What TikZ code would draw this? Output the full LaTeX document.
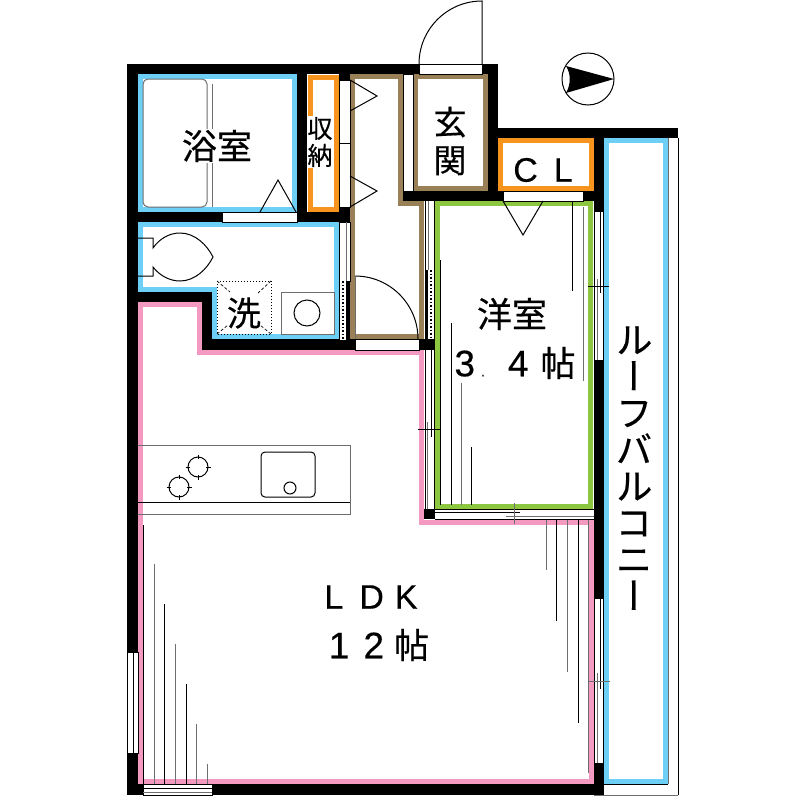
\documentclass[tikz,border=0pt]{standalone}
\usepackage{fontspec}
\setmainfont[FakeBold=0.3]{Liberation Sans}
\newfontfamily\cjk[FakeBold=0.4]{Noto Sans CJK JP}
\newfontfamily\cjkv[RawFeature={+vert},FakeBold=0.4]{Noto Sans CJK JP}
\definecolor{cblue}{HTML}{6DCFF6}
\definecolor{corange}{HTML}{F7941D}
\definecolor{cbrown}{HTML}{998056}
\definecolor{cgreen}{HTML}{8DC63F}
\definecolor{cpink}{HTML}{F49AC1}
\definecolor{cgrey}{HTML}{6E6E6E}
\tikzset{
  room/.style={line width=5pt,line join=miter},
  wallfill/.style={fill=black},
  win/.style={draw=black,fill=white,line width=0.7pt},
  thin line/.style={draw=black,line width=1pt},
  grey line/.style={draw=cgrey,line width=1pt},
  lbl/.style={inner sep=1pt,fill=white,align=center},
  k34/.style={lbl,font=\cjk\fontsize{35}{38}\selectfont},
}
\newcommand{\wall}[4]{\fill[wallfill] (#1,#2) rectangle (#3,#4);}
\newcommand{\wind}[4]{\draw[win] (#1,#2) rectangle (#3,#4);}
\begin{document}
\begin{tikzpicture}[x=1pt,y=-1pt]
\useasboundingbox (0,0) rectangle (800,800);
\fill[white] (0,0) rectangle (800,800);
% coloured room outlines
\draw[room,cblue] (140.5,76.5) rectangle (294.5,209.5);
\draw[room,corange] (310,77) rectangle (336.5,209.5);
\draw[room,cblue] (140.5,224.5) -- (336.5,224.5) -- (336.5,336.5) -- (214.5,336.5) -- (214.5,289.5) -- (140.5,289.5) -- cycle;
\draw[room,cbrown] (352.5,76.5) -- (400.5,76.5) -- (400.5,203.5) -- (421.5,203.5) -- (421.5,336.5) -- (352.5,336.5) -- cycle;
\draw[room,cbrown] (415.5,76.5) rectangle (485.5,188.5);
\draw[room,corange] (500.5,140.5) rectangle (591.5,188.5);
\draw[room,cgreen] (437.5,203.5) rectangle (590.5,506.5);
\draw[room,cblue] (606.5,140.5) rectangle (665.5,781.5);
\draw[room,cpink] (140.5,304.5) -- (199.5,304.5) -- (199.5,352.5) -- (421.5,352.5) -- (421.5,522) -- (591,522) -- (591,781.5) -- (140.5,781.5) -- cycle;
% balcony edge
\draw[grey line] (668,138) -- (668,784);
\draw[thin line] (604,784) -- (668,784);
\draw[thin line] (678,138) -- (678,795);
\draw[grey line] (594,795) -- (678,795);
% walls
\wall{127}{64}{419}{74}
\wall{127}{64}{138}{795}
\wall{127}{784}{604}{795}
\wall{138}{212}{350}{222}
\wall{297}{74}{307}{212}
\wall{339}{74}{350}{80}
\wall{339}{207}{350}{222}
\wall{127}{292}{212}{302}
\wall{202}{292}{212}{350}
\wall{202}{339}{355}{350}
\wall{419}{339}{435}{350}
\wall{482}{64}{498}{74}
\wall{488}{64}{498}{201}
\wall{403}{191}{594}{201}
\wall{498}{128}{678}{138}
\wall{594}{128}{604}{212}
\wall{594}{360}{604}{599}
\wall{594}{763}{604}{795}
\wall{424}{509}{435}{519}
% windows and door sills
\wind{222}{212}{297}{222}
\wind{339}{80}{350}{143}
\wind{339}{143}{350}{207}
\wind{403}{74}{413}{191}
\wind{419}{64}{482}{74}
\wind{355}{339}{419}{350}
\wind{503}{191}{583}{201}
\wind{339}{222}{350}{281}
\draw[grey line] (346,222) -- (346,281);
\wind{127}{652}{138}{753}
\draw[thin line] (133,652) -- (133,753);
\wind{143}{784}{212}{795}
\draw[thin line] (143,788) -- (212,788);
\draw[grey line] (143,792) -- (212,792);
% washroom pocket strip
\fill[white] (339,281) rectangle (350,340);
\fill[black] (346,281) rectangle (350,340);
\draw[black,line width=1pt] (339.5,281) -- (339.5,340);
\draw[black,line width=1.5pt,dotted] (343,281) -- (343,340);
% corridor / western room strip
\fill[white] (424,201) rectangle (435,339);
\draw[thin line] (425,201) -- (425,270);
\draw[thin line] (434,201) -- (434,270);
\draw[grey line] (428,201) -- (428,270);
\fill[black] (425,270) rectangle (428,339);
\draw[black,line width=1.5pt,dotted] (431,270) -- (431,339);
\draw[thin line] (434,270) -- (434,339);
% strip with sliding door, left of western room
\fill[white] (424,350) rectangle (435,509);
\draw[thin line] (425,350) -- (425,509);
\draw[thin line] (434,350) -- (434,509);
\draw[thin line] (431,350) -- (431,437);
\draw[grey line] (427.5,422) -- (427.5,509);
\draw[thin line] (418,429) -- (440,429);
% strip below western room
\fill[white] (435,509) rectangle (594,519);
\draw[thin line] (435,509.5) -- (594,509.5);
\draw[thin line] (435,519.5) -- (594,519.5);
\draw[thin line] (435,512.5) -- (520,512.5);
\draw[grey line] (506,516) -- (594,516);
\draw[grey line] (514,503) -- (514,524);
% right strips
\fill[white] (594,212) rectangle (604,360);
\draw[thin line] (594.5,212) -- (594.5,360);
\draw[thin line] (603.5,212) -- (603.5,360);
\draw[thin line] (600,212) -- (600,293);
\draw[grey line] (597,279) -- (597,360);
\draw[thin line] (588,286) -- (609,286);
\fill[white] (594,599) rectangle (604,763);
\draw[thin line] (594.5,599) -- (594.5,763);
\draw[thin line] (603.5,599) -- (603.5,763);
\draw[thin line] (600,599) -- (600,689);
\draw[grey line] (597,673) -- (597,763);
\draw[grey line] (588,681) -- (610,681);
% bath
\draw[grey line,rounded corners=5pt] (143,79) rectangle (207,207);
\draw[grey line] (212,84) -- (212,207);
\draw[thin line,line join=miter] (260,212) -- (278,180) -- (296,212);
% closet door triangles
\draw[thin line] (350,80) -- (377,96) -- (350,111);
\draw[thin line] (350,176) -- (377,191) -- (350,207);
% corridor door
\draw[thin line] (355,276) .. controls (389.8,276) and (418,304.2) .. (418,339);
\draw[grey line] (355,276) -- (355,339);
% entrance door
\draw[thin line] (419,64) .. controls (419,29.2) and (447.2,1) .. (482,1) -- (482,64);
% closet triangle in western room
\draw[thin line] (503,201) -- (523,235) -- (543,201);
% toilet
\draw[thin line] (138,238) -- (153,238) -- (153,248) .. controls (160,238) and (170,233) .. (180,233) .. controls (195,233) and (207,245) .. (213,257) .. controls (207,269) and (195,281) .. (180,281) .. controls (170,281) and (160,276) .. (153,267) -- (153,276) -- (138,276);
% washer
\draw[black,line width=1pt,dotted] (217,281) rectangle (271,334);
\draw[black,line width=0.7pt,densely dashed] (217,281) -- (230,292);
\draw[black,line width=0.7pt,densely dashed] (271,281) -- (258,293);
\draw[black,line width=0.7pt,densely dashed] (217,334) -- (228,325);
\draw[black,line width=0.7pt,densely dashed] (271,334) -- (260,325);
\draw[grey line] (281,292) rectangle (334,334);
\draw[thin line] (307,313) circle[radius=13];
% kitchen
\draw[grey line] (138,445) -- (350,445) -- (350,514) -- (138,514);
\draw[thin line] (138,502) -- (350,502);
\draw[thin line,rounded corners=4pt] (261,452) rectangle (315,497);
\draw[thin line] (290,488) circle[radius=6];
\draw[thin line] (198,454.5) -- (198,479.5);
\draw[thin line] (185.5,467) -- (210.5,467);
\fill[white] (198,467) circle[radius=8];
\draw[thin line] (198,467) circle[radius=10];
\draw[thin line] (179,474.5) -- (179,499.5);
\draw[thin line] (166.5,487) -- (191.5,487);
\fill[white] (179,487) circle[radius=8];
\draw[thin line] (179,487) circle[radius=10];
% grid lines western room
\draw[thin line] (572,201) -- (572,291);
\draw[grey line] (583,207) -- (583,381);
\draw[thin line] (440,260) -- (440,505);
\draw[thin line] (451,323) -- (451,505);
\draw[grey line] (461,383) -- (461,505);
\draw[thin line] (471,447) -- (471,505);
% grid lines LDK right
\draw[grey line] (546,520) -- (546,570);
\draw[thin line] (556,520) -- (556,621);
\draw[grey line] (567,520) -- (567,672);
\draw[thin line] (578,520) -- (578,723);
\draw[grey line] (588,520) -- (588,773);
% grid lines LDK left
\draw[thin line] (143,525) -- (143,784);
\draw[grey line] (154,564) -- (154,784);
\draw[thin line] (164,604) -- (164,784);
\draw[grey line] (175,644) -- (175,784);
\draw[thin line] (186,684) -- (186,784);
\draw[grey line] (196,724) -- (196,784);
\draw[grey line] (207,764) -- (207,784);
% compass
\draw[thin line] (588,79) circle[radius=26];
\fill[black] (614,79) -- (566,66) .. controls (571,74) and (571,84) .. (566,93) -- cycle;
% labels
\node[k34] (bath) at (217,146) {浴室};
\node[lbl,font=\cjk\fontsize{25}{27}\selectfont] (closet) at (320,142) {収\\納};
\node[lbl,font=\cjk\fontsize{33}{38}\selectfont] (entry) at (450,141) {玄\\関};
\node[lbl,font=\cjk\fontsize{34}{38}\selectfont,fill=none] (wash) at (244,313) {洗};
\node[lbl,font=\fontsize{34}{36}\selectfont] (cl) at (543,170) {C\hspace{16pt}L};
\node[k34] (west) at (512,314) {洋室};
\node[lbl,font=\fontsize{37}{38}\selectfont] (west2) at (515,363) {3\hspace{6pt}{\fontsize{14}{14}\selectfont.}\hspace{23pt}4\hspace{12pt}{\cjk\fontsize{35}{38}\selectfont 帖}};
\node[lbl,font=\fontsize{34}{36}\selectfont] (ldk) at (371,597) {L\hspace{16pt}D\hspace{11pt}K};
\node[lbl,font=\fontsize{37}{38}\selectfont] (ldk2) at (379,645) {1\hspace{14pt}2\hspace{10pt}{\cjk\fontsize{35}{38}\selectfont 帖}};
\node[lbl,font=\cjkv\fontsize{37}{36.6}\selectfont] (balc) at (634,468) {ル\\ー\\フ\\バ\\ル\\コ\\ニ\\ー};
\end{tikzpicture}
\end{document}
